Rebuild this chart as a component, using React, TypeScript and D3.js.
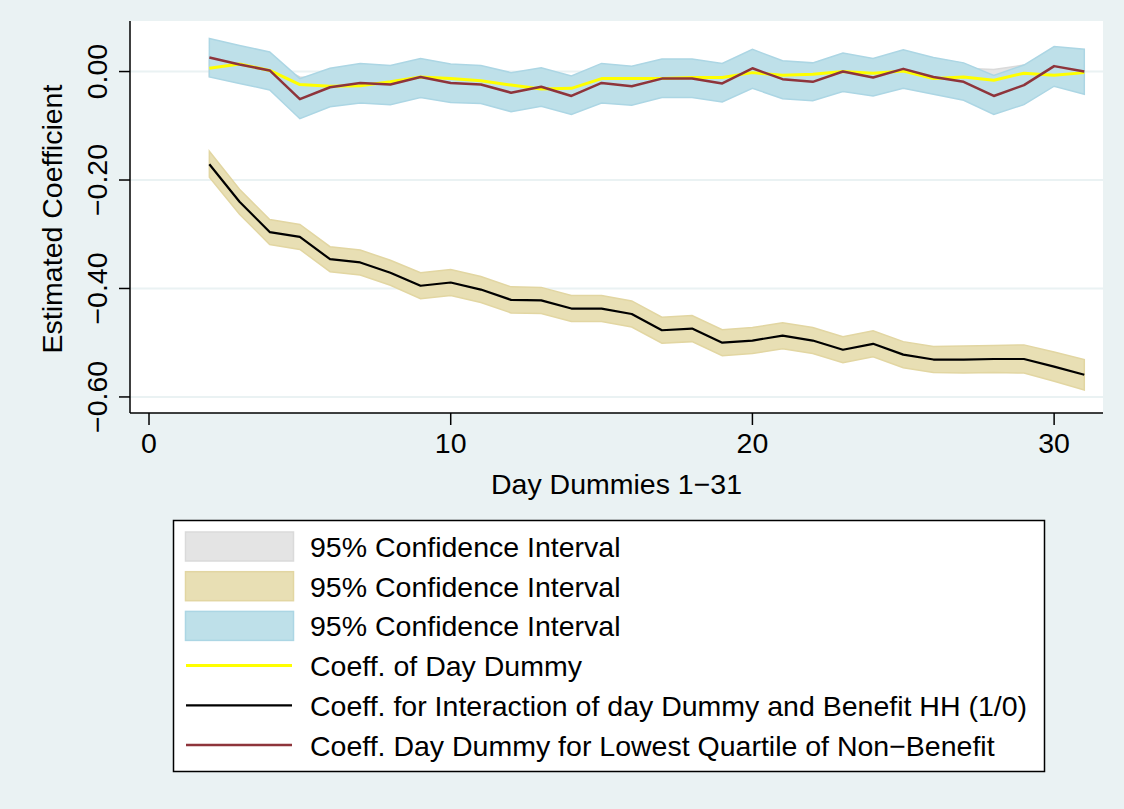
import React from "react";
import * as d3 from "d3";

// Day dummies 2..31
const days = d3.range(2, 32);

// Coefficient of day dummy (yellow) and its 95% CI (grey)
const coefDay = [0.006, 0.014, 0.002, -0.024, -0.027, -0.026, -0.019, -0.010, -0.013, -0.017, -0.025, -0.032, -0.031, -0.013, -0.013, -0.013, -0.011, -0.011, -0.002, -0.007, -0.005, 0.000, -0.003, 0.001, -0.013, -0.010, -0.016, -0.003, -0.007, -0.002];
const ciDayLo = [-0.009, -0.001, -0.013, -0.039, -0.042, -0.041, -0.034, -0.025, -0.028, -0.032, -0.040, -0.047, -0.046, -0.028, -0.028, -0.028, -0.026, -0.026, -0.017, -0.022, -0.020, -0.015, -0.018, -0.014, -0.028, -0.025, -0.031, -0.018, -0.022, -0.017];
const ciDayHi = [0.021, 0.029, 0.017, -0.010, -0.012, -0.011, -0.004, 0.005, 0.002, -0.002, -0.010, -0.017, -0.016, 0.002, 0.002, 0.002, 0.004, 0.004, 0.013, 0.008, 0.010, 0.015, 0.012, 0.016, 0.002, 0.006, 0.004, 0.012, 0.008, 0.013];

// Interaction of day dummy and benefit HH (black) and its 95% CI (tan)
const coefInter = [-0.171, -0.240, -0.296, -0.305, -0.346, -0.352, -0.371, -0.395, -0.389, -0.402, -0.421, -0.422, -0.437, -0.437, -0.447, -0.477, -0.474, -0.500, -0.496, -0.487, -0.496, -0.513, -0.502, -0.522, -0.531, -0.531, -0.530, -0.530, -0.544, -0.559];
const ciInterLo = [-0.195, -0.263, -0.319, -0.328, -0.369, -0.375, -0.394, -0.419, -0.413, -0.426, -0.445, -0.446, -0.461, -0.461, -0.471, -0.501, -0.498, -0.524, -0.520, -0.511, -0.520, -0.537, -0.526, -0.546, -0.555, -0.556, -0.555, -0.556, -0.571, -0.587];
const ciInterHi = [-0.147, -0.217, -0.273, -0.282, -0.323, -0.329, -0.348, -0.371, -0.365, -0.378, -0.397, -0.398, -0.413, -0.413, -0.423, -0.453, -0.450, -0.476, -0.472, -0.463, -0.472, -0.489, -0.478, -0.498, -0.507, -0.506, -0.505, -0.504, -0.517, -0.531];

// Day dummy for lowest quartile of non-benefit (maroon) and its 95% CI (blue)
const coefLow = [0.026, 0.013, 0.002, -0.051, -0.029, -0.021, -0.024, -0.010, -0.021, -0.024, -0.039, -0.028, -0.045, -0.021, -0.027, -0.013, -0.013, -0.022, 0.006, -0.014, -0.019, 0.000, -0.011, 0.005, -0.010, -0.019, -0.045, -0.025, 0.010, 0.000];
const ciLowLo = [-0.010, -0.022, -0.034, -0.087, -0.065, -0.058, -0.061, -0.048, -0.057, -0.059, -0.074, -0.064, -0.079, -0.058, -0.062, -0.048, -0.048, -0.056, -0.031, -0.050, -0.054, -0.037, -0.045, -0.031, -0.042, -0.053, -0.079, -0.061, -0.027, -0.042];
const ciLowHi = [0.061, 0.048, 0.036, -0.013, 0.006, 0.015, 0.011, 0.024, 0.014, 0.011, -0.002, 0.007, -0.008, 0.015, 0.010, 0.023, 0.023, 0.015, 0.041, 0.020, 0.016, 0.034, 0.024, 0.040, 0.026, 0.016, -0.007, 0.012, 0.046, 0.041];

const xTicks = [0, 10, 20, 30];
const yTicks = [0, -0.2, -0.4, -0.6];

const legendItems = [
  { kind: "area", fill: "#e4e4e4", stroke: "#dadada", label: "95% Confidence Interval" },
  { kind: "area", fill: "#e8dfb4", stroke: "#e2d6a2", label: "95% Confidence Interval" },
  { kind: "area", fill: "#bee0e9", stroke: "#acd6e4", label: "95% Confidence Interval" },
  { kind: "line", stroke: "#ffff00", width: 3, label: "Coeff. of Day Dummy" },
  { kind: "line", stroke: "#000000", width: 2.2, label: "Coeff. for Interaction of day Dummy and Benefit HH (1/0)" },
  { kind: "line", stroke: "#8e343b", width: 2.5, label: "Coeff. Day Dummy for Lowest Quartile of Non\u2212Benefit" },
];

const W = 1124;
const H = 809;
const plot = { left: 130, right: 1103, top: 21, bottom: 413 };
const FONT = "'Liberation Sans', Arial, Helvetica, sans-serif";
const AXIS_FS = 28.5;
const LEGEND_FS = 28.5;

const fmtY = (v: number) => (v === 0 ? "0.00" : "\u2212" + Math.abs(v).toFixed(2));

export default function App() {
  const x = d3.scaleLinear().domain([-0.63, 31.62]).range([plot.left, plot.right]);
  const y = d3.scaleLinear().domain([-0.6296, 0.0932]).range([plot.bottom, plot.top]);

  const band = (lo: number[], hi: number[]) =>
    d3
      .area<number>()
      .x((_, i) => x(days[i]))
      .y0((_, i) => y(lo[i]))
      .y1((_, i) => y(hi[i]))(days.map((_, i) => i)) || "";

  const line = (vals: number[]) =>
    d3
      .line<number>()
      .x((_, i) => x(days[i]))
      .y((_, i) => y(vals[i]))(days.map((_, i) => i)) || "";

  const legend = { x: 173.5, y: 520.5, w: 871, h: 251, rowY0: 546.5, rowStep: 39.7 };

  return (
    <svg
      width={W}
      height={H}
      style={{ position: "absolute", left: 0, top: 0, display: "block" }}
      fontFamily={FONT}
    >
      <rect x={0} y={0} width={W} height={H} fill="#eaf2f3" />
      <rect x={plot.left} y={plot.top} width={plot.right - plot.left} height={plot.bottom - plot.top} fill="#ffffff" />

      {/* gridlines */}
      {yTicks.map((t) => (
        <line key={t} x1={plot.left} x2={plot.right} y1={y(t)} y2={y(t)} stroke="#eaf2f3" strokeWidth={2} />
      ))}

      {/* confidence bands */}
      <path d={band(ciDayLo, ciDayHi)} fill="#e4e4e4" stroke="#dadada" strokeWidth={1.5} />
      <path d={band(ciInterLo, ciInterHi)} fill="#e8dfb4" stroke="#e2d6a2" strokeWidth={1.5} />
      <path d={band(ciLowLo, ciLowHi)} fill="#bee0e9" stroke="#acd6e4" strokeWidth={1.5} />

      {/* coefficient lines */}
      <path d={line(coefDay)} fill="none" stroke="#ffff00" strokeWidth={3} strokeLinejoin="round" />
      <path d={line(coefInter)} fill="none" stroke="#000000" strokeWidth={2.2} strokeLinejoin="round" />
      <path d={line(coefLow)} fill="none" stroke="#8e343b" strokeWidth={2.5} strokeLinejoin="round" />

      {/* y axis */}
      <line x1={plot.left} x2={plot.left} y1={plot.top} y2={plot.bottom} stroke="#000" strokeWidth={1.5} />
      {yTicks.map((t) => (
        <g key={t}>
          <line x1={plot.left - 11} x2={plot.left} y1={y(t)} y2={y(t)} stroke="#000" strokeWidth={1.5} />
          <text
            transform={`translate(107,${y(t)}) rotate(-90)`}
            textAnchor="middle"
            fontSize={AXIS_FS}
            fill="#000"
          >
            {fmtY(t)}
          </text>
        </g>
      ))}
      <text
        transform={`translate(62,${(plot.top + plot.bottom) / 2 + 2}) rotate(-90)`}
        textAnchor="middle"
        fontSize={AXIS_FS}
        fill="#000"
      >
        Estimated Coefficient
      </text>

      {/* x axis */}
      <line x1={plot.left} x2={plot.right} y1={plot.bottom} y2={plot.bottom} stroke="#000" strokeWidth={1.5} />
      {xTicks.map((t) => (
        <g key={t}>
          <line x1={x(t)} x2={x(t)} y1={plot.bottom} y2={plot.bottom + 12} stroke="#000" strokeWidth={1.5} />
          <text x={x(t)} y={453} textAnchor="middle" fontSize={AXIS_FS} fill="#000">
            {t}
          </text>
        </g>
      ))}
      <text x={(plot.left + plot.right) / 2} y={494} textAnchor="middle" fontSize={AXIS_FS} fill="#000">
        Day Dummies 1{"\u2212"}31
      </text>

      {/* legend */}
      <rect x={legend.x} y={legend.y} width={legend.w} height={legend.h} fill="#ffffff" stroke="#000" strokeWidth={1.5} />
      {legendItems.map((it, i) => {
        const cy = legend.rowY0 + i * legend.rowStep;
        return (
          <g key={i}>
            {it.kind === "area" ? (
              <rect x={185.5} y={cy - 14.5} width={108} height={29} fill={it.fill} stroke={it.stroke} strokeWidth={1.5} />
            ) : (
              <line x1={186} x2={292} y1={cy} y2={cy} stroke={it.stroke} strokeWidth={it.width} />
            )}
            <text x={310} y={cy + 10.5} fontSize={LEGEND_FS} fill="#000">
              {it.label}
            </text>
          </g>
        );
      })}
    </svg>
  );
}
